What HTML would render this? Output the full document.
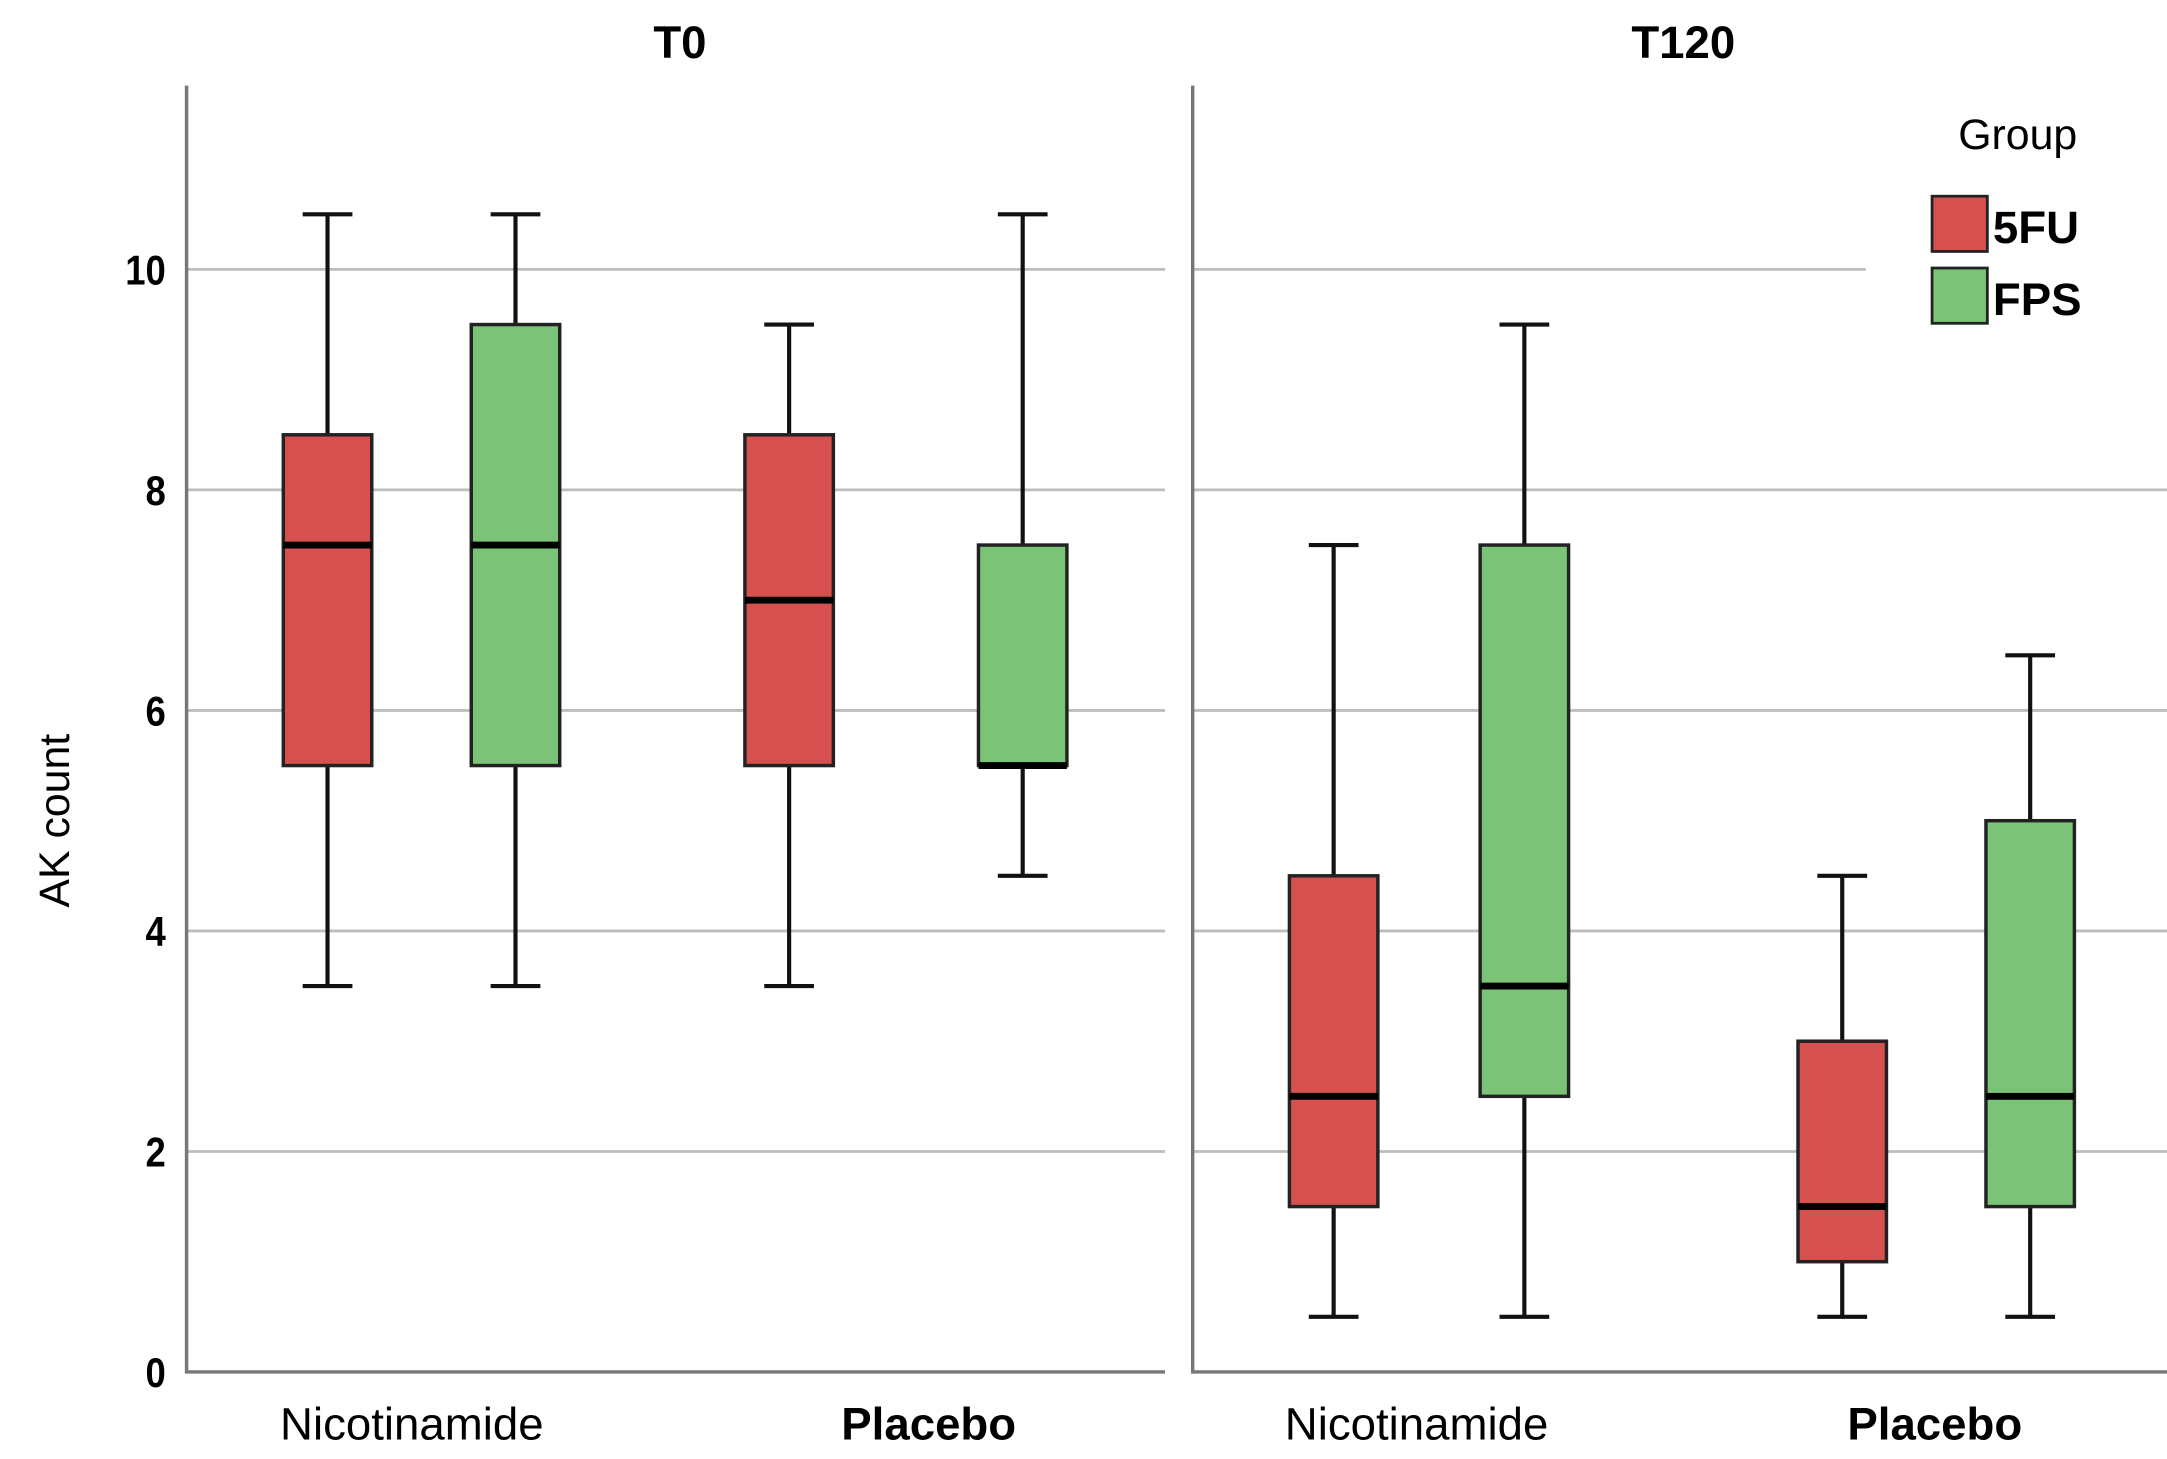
<!DOCTYPE html>
<html><head><meta charset="utf-8"><style>
html,body{margin:0;padding:0;background:#fff;}
svg{display:block;font-family:"Liberation Sans",sans-serif;}
</style></head><body>
<svg id="chart" width="2167" height="1459" viewBox="0 0 1568 1056" preserveAspectRatio="none" xmlns="http://www.w3.org/2000/svg"></svg>
<script>
const panels = ["T0", "T120"];
const categories = ["Nicotinamide", "Placebo"];
const groups = ["5FU", "FPS"];
// [min, q1, median, q3, max]
const t0Nic5FU = [3.5, 5.5, 7.5, 8.5, 10.5];
const t0NicFPS = [3.5, 5.5, 7.5, 9.5, 10.5];
const t0Pla5FU = [3.5, 5.5, 7.0, 8.5, 9.5];
const t0PlaFPS = [4.5, 5.5, 5.5, 7.5, 10.5];
const t120Nic5FU = [0.5, 1.5, 2.5, 4.5, 7.5];
const t120NicFPS = [0.5, 2.5, 3.5, 7.5, 9.5];
const t120Pla5FU = [0.5, 1.0, 1.5, 3.0, 4.5];
const t120PlaFPS = [0.5, 1.5, 2.5, 5.0, 6.5];
const yTicks = [0, 2, 4, 6, 8, 10];

const boxData = [[[t0Nic5FU, t0NicFPS], [t0Pla5FU, t0PlaFPS]], [[t120Nic5FU, t120NicFPS], [t120Pla5FU, t120PlaFPS]]];
const colors = {"5FU": "#d5504f", "FPS": "#7bc477"};
const svg = document.getElementById('chart');
const NS = "http://www.w3.org/2000/svg";
function mk(tag, attrs, parent) {
  const e = document.createElementNS(NS, tag);
  for (const k in attrs) e.setAttribute(k, attrs[k]);
  (parent || svg).appendChild(e);
  return e;
}
const y = v => 993 - v * 79.8;
const panelX = [135, 863];
const panelW = [708, 705];
// box centers (layout)
const boxCenters = [[[237, 373], [571, 740]], [[965, 1103], [1333, 1469]]];
const labelCenters = [[298, 672], [1025, 1400]];
const boxW = 64, capW = 36;

const yl = mk('text', {x: 50, y: y(5), 'font-size': 31, 'text-anchor': 'middle', transform: `rotate(-90 50 ${y(5)})`});
yl.textContent = "AK count";



yTicks.forEach(t => {
  const tx = mk('text', {x: 120, y: y(t) + 11, 'font-size': 30, 'font-weight': 'bold', 'text-anchor': 'end', transform: `translate(${120*0.12} 0) scale(0.88 1)`});
  tx.setAttribute('x', 120 / 0.88 - 120*0.12/0.88);
  tx.textContent = t;
  
  
});

panels.forEach((p, pi) => {
  const x0 = panelX[pi], w = panelW[pi];
  const g = mk('g', {});
  
  
  yTicks.forEach(t => {
    if (t === 0) return;
    const x2 = (pi === 1 && t === 10) ? 1350 : x0 + w;
    const gl = mk('line', {x1: x0, x2: x2, y1: y(t), y2: y(t), stroke: '#bdbdbd', 'stroke-width': 2}, g);
    
    
  });
  const ax = mk('path', {d: `M${x0} 62 V${y(0)} H${x0 + w}`, fill: 'none', stroke: '#777', 'stroke-width': 2.5}, g);
  
  
  const tt = mk('text', {x: x0 + (pi === 0 ? 357 : 355), y: 42, 'font-size': 33, 'font-weight': 'bold', 'text-anchor': 'middle'}, g);
  tt.textContent = p;
  
  
  categories.forEach((c, ci) => {
    const cl = mk('text', {x: labelCenters[pi][ci], y: 1042, 'font-size': 33, 'font-weight': ci === 1 ? 'bold' : 'normal', 'text-anchor': 'middle'}, g);
    cl.textContent = c;
    
    
    groups.forEach((gr, gi) => {
      const d = boxData[pi][ci][gi];
      const bx = boxCenters[pi][ci][gi];
      const bg = mk('g', {}, g);
      
      
      mk('line', {x1: bx, x2: bx, y1: y(d[0]), y2: y(d[4]), stroke: '#111', 'stroke-width': 3}, bg);
      mk('line', {x1: bx - capW/2, x2: bx + capW/2, y1: y(d[0]), y2: y(d[0]), stroke: '#111', 'stroke-width': 3}, bg);
      mk('line', {x1: bx - capW/2, x2: bx + capW/2, y1: y(d[4]), y2: y(d[4]), stroke: '#111', 'stroke-width': 3}, bg);
      mk('rect', {x: bx - boxW/2, y: y(d[3]), width: boxW, height: y(d[1]) - y(d[3]), fill: colors[gr], stroke: '#222', 'stroke-width': 2.5}, bg);
      mk('line', {x1: bx - boxW/2, x2: bx + boxW/2, y1: y(d[2]), y2: y(d[2]), stroke: '#000', 'stroke-width': 5}, bg);
    });
  });
});

const lg = mk('g', {});


const lt = mk('text', {x: 1460, y: 108, 'font-size': 31, 'text-anchor': 'middle'}, lg);
lt.textContent = "Group";
groups.forEach((gr, gi) => {
  const yy = 142 + gi * 52;
  const r = mk('rect', {x: 1398, y: yy, width: 40, height: 40, fill: colors[gr], stroke: '#222', 'stroke-width': 2}, lg);
  
  
  const t = mk('text', {x: 1442, y: yy + 34, 'font-size': 33, 'font-weight': 'bold'}, lg);
  t.textContent = gr;
  
  
});
</script>
</body></html>
